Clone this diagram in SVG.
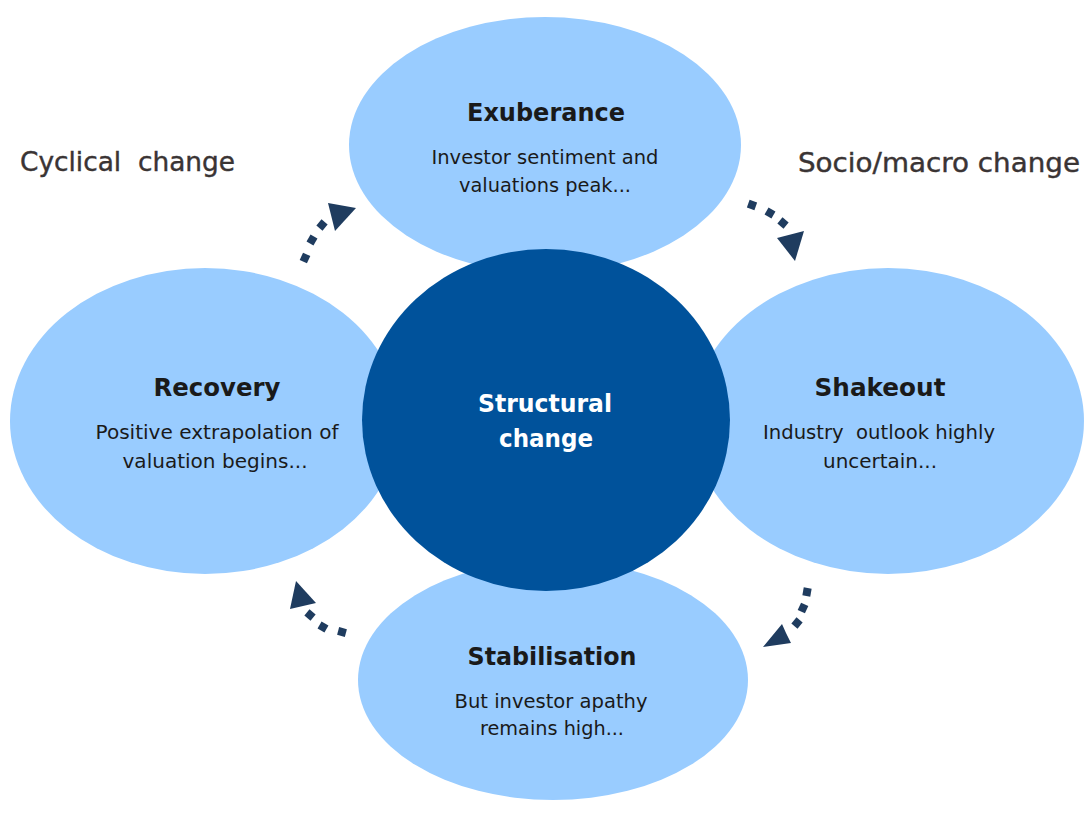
<svg xmlns="http://www.w3.org/2000/svg" width="1084" height="819" viewBox="0 0 1084 819">
<style>
.phase{fill:#99CCFF}
.core{fill:#00529B}
.t{font-family:"DejaVu Sans","Liberation Sans",sans-serif;text-anchor:middle;white-space:pre}
.title{font-size:25px;font-weight:bold;fill:#1a1a1a}
.body{font-size:20px;fill:#1a1a1a}
.ctitle{font-size:25px;font-weight:bold;fill:#ffffff}
.side{font-family:"DejaVu Sans","Liberation Sans",sans-serif;font-size:26px;fill:#3a3434;stroke:#3a3434;stroke-width:0.4;white-space:pre}
.arr{fill:#1F3C5F}
</style>
<rect width="1084" height="819" fill="#ffffff"/>
<text class="side" x="20" y="171" textLength="215" lengthAdjust="spacingAndGlyphs">Cyclical  change</text>
<text class="side" x="798" y="172" textLength="282" lengthAdjust="spacingAndGlyphs">Socio/macro change</text>
<g id="exuberance">
<ellipse class="phase" cx="545" cy="145" rx="196" ry="128"/>
<text class="t title" x="546" y="121" textLength="158" lengthAdjust="spacingAndGlyphs">Exuberance</text>
<text class="t body" x="545" y="164" textLength="227" lengthAdjust="spacingAndGlyphs">Investor sentiment and</text>
<text class="t body" x="545" y="192" textLength="172" lengthAdjust="spacingAndGlyphs">valuations peak...</text>
</g>
<g id="recovery">
<ellipse class="phase" cx="205" cy="421" rx="195" ry="153"/>
<text class="t title" x="217" y="396" textLength="127" lengthAdjust="spacingAndGlyphs">Recovery</text>
<text class="t body" x="217" y="439" textLength="243" lengthAdjust="spacingAndGlyphs">Positive extrapolation of</text>
<text class="t body" x="215" y="468" textLength="185" lengthAdjust="spacingAndGlyphs">valuation begins...</text>
</g>
<g id="shakeout">
<ellipse class="phase" cx="888" cy="421" rx="196" ry="153"/>
<text class="t title" x="880" y="396" textLength="131" lengthAdjust="spacingAndGlyphs">Shakeout</text>
<text class="t body" x="879" y="439" textLength="232" lengthAdjust="spacingAndGlyphs">Industry  outlook highly</text>
<text class="t body" x="880" y="468" textLength="114" lengthAdjust="spacingAndGlyphs">uncertain...</text>
</g>
<g id="stabilisation">
<ellipse class="phase" cx="553" cy="680" rx="195" ry="120"/>
<text class="t title" x="552" y="665" textLength="169" lengthAdjust="spacingAndGlyphs">Stabilisation</text>
<text class="t body" x="551" y="708" textLength="193" lengthAdjust="spacingAndGlyphs">But investor apathy</text>
<text class="t body" x="552" y="735" textLength="144" lengthAdjust="spacingAndGlyphs">remains high...</text>
</g>
<g id="structural">
<ellipse class="core" cx="546" cy="420" rx="184" ry="171"/>
<text class="t ctitle" x="545" y="412" textLength="134" lengthAdjust="spacingAndGlyphs">Structural</text>
<text class="t ctitle" x="546" y="447" textLength="94" lengthAdjust="spacingAndGlyphs">change</text>
</g>
<g id="connectors">
<g class="arr">
<rect x="301" y="254" width="8" height="8" transform="rotate(25 305 258)"/>
<rect x="308" y="236" width="8" height="8" transform="rotate(30 312 240)"/>
<rect x="318" y="221" width="8" height="8" transform="rotate(40 322 225)"/>
<polygon points="328,203 356,208 335,231"/>
</g>
<g class="arr">
<rect x="748" y="201" width="8" height="8" transform="rotate(20 752 205)"/>
<rect x="766" y="209" width="8" height="8" transform="rotate(30 770 213)"/>
<rect x="779" y="219" width="8" height="8" transform="rotate(40 783 223)"/>
<polygon points="777,238 804,231 795,261"/>
</g>
<g class="arr">
<rect x="803" y="588" width="8" height="8" transform="rotate(10 807 592)"/>
<rect x="799" y="604" width="8" height="8" transform="rotate(25 803 608)"/>
<rect x="793" y="619" width="8" height="8" transform="rotate(40 797 623)"/>
<polygon points="763,647 782,624 786,633 791,643"/>
</g>
<g class="arr">
<rect x="306" y="611" width="8" height="8" transform="rotate(40 310 615)"/>
<rect x="319" y="623" width="8" height="8" transform="rotate(30 323 627)"/>
<rect x="338" y="628" width="8" height="8" transform="rotate(15 342 632)"/>
<polygon points="296,581 290,609 316,603"/>
</g>
</g>
</svg>
